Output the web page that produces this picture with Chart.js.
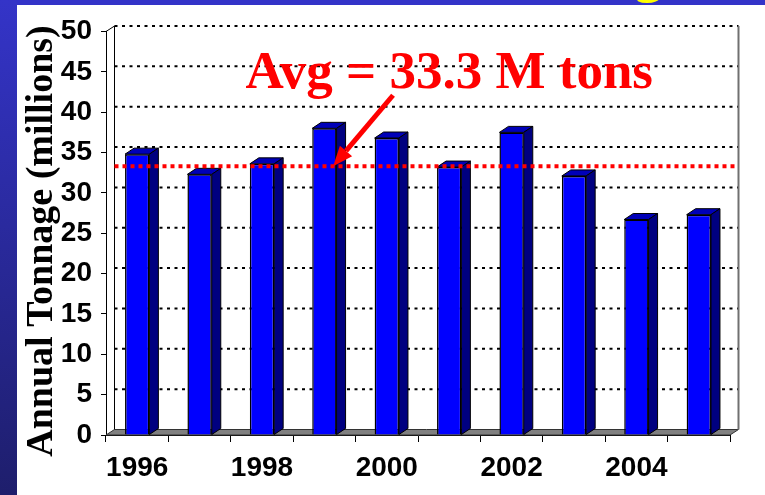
<!DOCTYPE html>
<html>
<head>
<meta charset="utf-8">
<script src="https://cdn.jsdelivr.net/npm/chart.js@4"></script>
<style>
  html, body { margin: 0; padding: 0; background: #ffffff; overflow: hidden; }
  canvas { display: block; }
</style>
</head>
<body>
<canvas id="tonnageChart" width="765" height="495"></canvas>
<script>
// données
const years = ['1996', '1997', '1998', '1999', '2000', '2001', '2002', '2003', '2004', '2005'];
const tonnage = [34.8, 32.3, 33.6, 38.0, 36.8, 33.2, 37.5, 32.1, 26.7, 27.3];
const shownYears = ['1996', '1998', '2000', '2002', '2004'];
const yMin = 0;
const yMax = 50;
const yStep = 5;
const average = 33.3;
const avgLabel = 'Avg = 33.3 M tons';
const yTitle = 'Annual Tonnage (millions)';
// ancrage de l'annotation (index de catégorie, valeur)
const labelAnchor = [5.0, 43];
const arrowFrom = [4.1, 42.1];
const arrowTo = [3.14, average];

// profondeur de l'effet 3D
const wallDx = 8.5, wallDy = 5.5;
const barDx = 9, barDy = 6;

const backdrop = {
    id: 'backdrop',
    beforeDraw(chart) {
        const ctx = chart.ctx;
        const w = chart.width, h = chart.height;
        ctx.save();
        ctx.fillStyle = '#ffffff';
        ctx.fillRect(0, 0, w, h);
        ctx.fillStyle = '#3333c8';
        ctx.fillRect(0, 0, w, 5);
        const grad = ctx.createLinearGradient(0, 0, 0, h);
        grad.addColorStop(0, '#3434c8');
        grad.addColorStop(1, '#1e1e6c');
        ctx.fillStyle = grad;
        ctx.fillRect(0, 0, 17, h);
        // bas du titre coupé en haut
        ctx.beginPath();
        ctx.rect(17, 0, w, 5);
        ctx.clip();
        ctx.fillStyle = '#ffff00';
        ctx.font = 'bold 56px "Liberation Serif"';
        ctx.textAlign = 'center';
        ctx.textBaseline = 'alphabetic';
        ctx.fillText('g', 648, -9);
        ctx.restore();
    }
};

const wall = {
    id: 'wall',
    beforeDatasetsDraw(chart) {
        const ctx = chart.ctx;
        const {left, right, top, bottom} = chart.chartArea;
        const y = chart.scales.y;
        ctx.save();
        // sol
        ctx.beginPath();
        ctx.moveTo(left, bottom);
        ctx.lineTo(right, bottom);
        ctx.lineTo(right + wallDx, bottom - wallDy);
        ctx.lineTo(left + wallDx, bottom - wallDy);
        ctx.closePath();
        ctx.fillStyle = '#808080';
        ctx.fill();
        ctx.strokeStyle = '#333333';
        ctx.lineWidth = 1;
        ctx.stroke();
        // lignes pointillées du mur du fond
        ctx.strokeStyle = '#000000';
        ctx.lineWidth = 2;
        ctx.setLineDash([3, 4.5]);
        y.ticks.forEach(t => {
            if (t.value === yMin) return;
            const py = y.getPixelForValue(t.value) - wallDy;
            ctx.beginPath();
            ctx.moveTo(left + wallDx, py);
            ctx.lineTo(right + wallDx, py);
            ctx.stroke();
        });
        ctx.setLineDash([]);
        // arêtes des murs
        ctx.lineWidth = 1;
        ctx.strokeStyle = '#000000';
        ctx.beginPath();
        ctx.moveTo(left, top);
        ctx.lineTo(left + wallDx, top - wallDy);
        ctx.moveTo(left + wallDx, top - wallDy);
        ctx.lineTo(left + wallDx, bottom - wallDy);
        ctx.stroke();
        ctx.strokeStyle = '#707070';
        ctx.lineWidth = 2;
        ctx.beginPath();
        ctx.moveTo(right + wallDx, top - wallDy);
        ctx.lineTo(right + wallDx, bottom - wallDy);
        ctx.stroke();
        ctx.restore();
    },
    afterDatasetsDraw(chart) {
        const ctx = chart.ctx;
        const {left, right} = chart.chartArea;
        const meta = chart.getDatasetMeta(0);
        ctx.save();
        ctx.lineWidth = 1;
        ctx.strokeStyle = '#000000';
        meta.data.forEach(bar => {
            const {x, y, base, width} = bar.getProps(['x', 'y', 'base', 'width'], true);
            const x0 = x - width / 2, x1 = x + width / 2;
            // dessus
            ctx.beginPath();
            ctx.moveTo(x0, y);
            ctx.lineTo(x1, y);
            ctx.lineTo(x1 + barDx, y - barDy);
            ctx.lineTo(x0 + barDx, y - barDy);
            ctx.closePath();
            ctx.fillStyle = '#0000b8';
            ctx.fill();
            ctx.stroke();
            // côté
            ctx.beginPath();
            ctx.moveTo(x1, y);
            ctx.lineTo(x1 + barDx, y - barDy);
            ctx.lineTo(x1 + barDx, base - barDy);
            ctx.lineTo(x1, base);
            ctx.closePath();
            ctx.fillStyle = '#000080';
            ctx.fill();
            ctx.stroke();
        });
        // ligne de moyenne
        const py = chart.scales.y.getPixelForValue(average);
        ctx.strokeStyle = '#ff0000';
        ctx.lineWidth = 4;
        ctx.setLineDash([4, 4]);
        ctx.beginPath();
        ctx.moveTo(left + wallDx, py);
        ctx.lineTo(right + wallDx, py);
        ctx.stroke();
        ctx.restore();
    },
    afterDraw(chart) {
        const ctx = chart.ctx;
        const xs = chart.scales.x, ys = chart.scales.y;
        ctx.save();
        // titre de l'axe Y
        ctx.save();
        ctx.translate(42, 241);
        ctx.rotate(-Math.PI / 2);
        ctx.fillStyle = '#000000';
        ctx.font = 'bold 38px "Liberation Serif"';
        ctx.textAlign = 'center';
        ctx.textBaseline = 'middle';
        ctx.fillText(yTitle, 0, 0);
        ctx.restore();

        ctx.fillStyle = '#ff0000';
        ctx.font = 'bold 53px "Liberation Serif"';
        ctx.textAlign = 'center';
        ctx.textBaseline = 'alphabetic';
        ctx.fillText(avgLabel, xs.getPixelForValue(labelAnchor[0]), ys.getPixelForValue(labelAnchor[1]));
        // flèche
        const ax = xs.getPixelForValue(arrowFrom[0]), ay = ys.getPixelForValue(arrowFrom[1]);
        const bx = xs.getPixelForValue(arrowTo[0]), by = ys.getPixelForValue(arrowTo[1]);
        const ang = Math.atan2(by - ay, bx - ax);
        const headLen = 20, headW = 8;
        const hx = bx - headLen * Math.cos(ang), hy = by - headLen * Math.sin(ang);
        ctx.strokeStyle = '#ff0000';
        ctx.lineWidth = 5;
        ctx.beginPath();
        ctx.moveTo(ax, ay);
        ctx.lineTo(hx, hy);
        ctx.stroke();
        ctx.beginPath();
        ctx.moveTo(bx, by);
        ctx.lineTo(hx + headW * Math.sin(ang), hy - headW * Math.cos(ang));
        ctx.lineTo(hx - headW * Math.sin(ang), hy + headW * Math.cos(ang));
        ctx.closePath();
        ctx.fill();
        ctx.restore();
    }
};

new Chart(document.getElementById('tonnageChart'), {
    type: 'bar',
    data: {
        labels: years,
        datasets: [{
            data: tonnage,
            backgroundColor: '#0000ff',
            borderColor: '#000000',
            borderWidth: 1.5,
            barPercentage: 0.39,
            categoryPercentage: 1.0
        }]
    },
    options: {
        responsive: false,
        animation: false,
        devicePixelRatio: 1,
        layout: {
            padding: { left: 0, top: 31.5, right: 35, bottom: 0 }
        },
        plugins: {
            legend: { display: false },
            tooltip: { enabled: false }
        },
        scales: {
            x: {
                grid: {
                    offset: true,
                    drawOnChartArea: false,
                    tickLength: 7,
                    color: '#000000'
                },
                border: { color: '#000000', width: 1 },
                ticks: {
                    autoSkip: false,
                    maxRotation: 0,
                    padding: 9,
                    color: '#000000',
                    font: { family: 'Liberation Sans', weight: 'bold', size: 28 },
                    callback: function(value, index) {
                        const lbl = this.getLabelForValue(value);
                        return shownYears.includes(lbl) ? lbl : '';
                    }
                },
                afterFit: s => { s.height = 60; }
            },
            y: {
                min: yMin,
                max: yMax,
                grid: {
                    drawOnChartArea: false,
                    tickLength: 5,
                    color: '#000000'
                },
                border: { color: '#000000', width: 1 },
                ticks: {
                    stepSize: yStep,
                    padding: 9,
                    color: '#000000',
                    font: { family: 'Liberation Sans', weight: 'bold', size: 28 }
                },
                afterFit: s => { s.width = 106; }
            }
        }
    },
    plugins: [backdrop, wall]
});
</script>
</body>
</html>
